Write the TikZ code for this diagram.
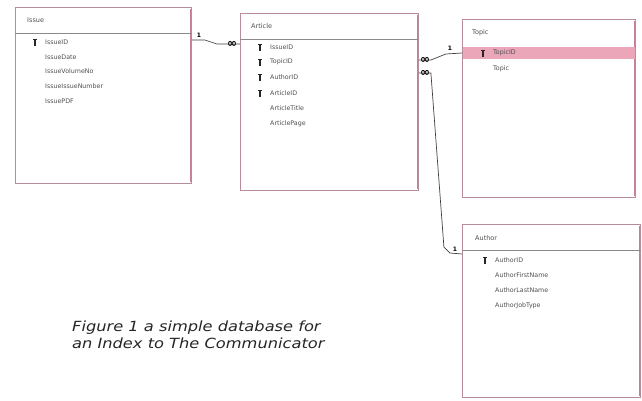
\documentclass[tikz,border=0pt]{standalone}
\usepackage{fontspec}
\setmainfont{DejaVu Sans}
\usetikzlibrary{calc}
\definecolor{boxline}{HTML}{B88C98}
\definecolor{boxshadow}{HTML}{C67E96}
\definecolor{hdrline}{HTML}{8A8A8A}
\definecolor{hilite}{HTML}{EBA6BA}
\definecolor{fieldtxt}{HTML}{505050}
\tikzset{
  tbl/.style={draw=boxline, line width=0.9pt, fill=white, anchor=north west, inner sep=0pt},
  hdr/.style={anchor=west, font=\fontsize{6.5}{7}\selectfont, text=fieldtxt, inner sep=0pt},
  fld/.style={anchor=west, font=\fontsize{6.3}{7}\selectfont, text=fieldtxt, inner sep=0pt},
  rel/.style={draw=black!75, line width=0.7pt},
  one/.style={font=\fontsize{6}{6}\selectfont\bfseries, inner sep=0pt},
  many/.style={font=\fontsize{12}{12}\selectfont\bfseries, inner sep=0pt},
  keyic/.style={fill=black!85, draw=none},
}
\newcommand{\keyat}[1]{\fill[keyic] ($(#1)+(-1.6,-3.5)$) rectangle ($(#1)+(1.6,-1.8)$); \fill[keyic] ($(#1)+(-0.7,-2)$) rectangle ($(#1)+(0.7,3.5)$);}
\begin{document}
\begin{tikzpicture}[x=1pt,y=-1pt]
\useasboundingbox[fill=white] (0,0) rectangle (642,400);
% tables
\node[tbl, minimum width=176pt, minimum height=176pt] (issue) at (15,7) {};
\node[tbl, minimum width=178pt, minimum height=177pt] (article) at (240,13) {};
\node[tbl, minimum width=173pt, minimum height=178pt] (topic) at (462,19) {};
\node[tbl, minimum width=178pt, minimum height=173pt] (author) at (462,224) {};
% shadows (right edges)
\foreach \t in {issue,article,topic,author}{
  \draw[boxshadow, line width=1.2pt] ([xshift=-1.5pt,yshift=-2pt]\t.north east) -- ([xshift=-1.5pt,yshift=2pt]\t.south east);
}
% header separators
\draw[hdrline, line width=0.9pt] ([yshift=-26pt]issue.north west) -- ([yshift=-26pt]issue.north east);
\draw[hdrline, line width=0.9pt] ([yshift=-26pt]article.north west) -- ([yshift=-26pt]article.north east);
\draw[hdrline, line width=0.9pt] ([yshift=-26pt]author.north west) -- ([yshift=-26pt]author.north east);
% Topic highlight
\fill[hilite] ([xshift=1pt,yshift=-28pt]topic.north west) rectangle ([xshift=-1pt,yshift=-40pt]topic.north east);
% Issue
\node[hdr] (issueH) at (27,20) {Issue};
\keyat{35,42}
\node[fld] (i1) at (45,42) {IssueID};
\node[fld] (i2) at (45,57) {IssueDate};
\node[fld] (i3) at (45,71) {IssueVolumeNo};
\node[fld] (i4) at (45,86) {IssueIssueNumber};
\node[fld] (i5) at (45,101) {IssuePDF};
% Article
\node[hdr] (articleH) at (251,26) {Article};
\keyat{260,47}\keyat{260,62}\keyat{260,77}\keyat{260,93}
\node[fld] (a1) at (270,47) {IssueID};
\node[fld] (a2) at (270,62) {TopicID};
\node[fld] (a3) at (270,77) {AuthorID};
\node[fld] (a4) at (270,93) {ArticleID};
\node[fld] (a5) at (270,108) {ArticleTitle};
\node[fld] (a6) at (270,124) {ArticlePage};
% Topic
\node[hdr] (topicH) at (472,33) {Topic};
\keyat{483,53}
\node[fld] (t1) at (493,53) {TopicID};
\node[fld] (t2) at (493,69) {Topic};
% Author
\node[hdr] (authorH) at (475,238) {Author};
\keyat{485,260}
\node[fld] (u1) at (495,260) {AuthorID};
\node[fld] (u2) at (495,275) {AuthorFirstName};
\node[fld] (u3) at (495,290) {AuthorLastName};
\node[fld] (u4) at (495,306) {AuthorJobType};
% relationships
\draw[rel] ([yshift=-33pt]issue.north east) -- ++(13,0) -- ++(12,4) -- ([yshift=-31pt]article.north west);
\node[one] (r1a) at (199,35) {1};
\node[many] (r1b) at (232,44) {∞};
\draw[rel] ([yshift=-47pt]article.north east) -- ++(12,0) -- ++(15,-6) -- ([yshift=-34pt]topic.north west);
\node[many] (r2a) at (425,60) {∞};
\node[one] (r2b) at (450,48) {1};
\draw[rel] ([yshift=-60pt]article.north east) -- ++(12,0) -- ++(13,174) -- ++(6,6) -- ([yshift=-30pt]author.north west);
\node[many] (r3a) at (425,73) {∞};
\node[one] (r3b) at (455,249) {1};
% caption
\node[anchor=north west, align=left, inner sep=0pt, text=black!85] (cap) at (72,321) {\scalebox{1.16}[1]{\fontsize{14}{17.5}\selectfont\itshape\shortstack[l]{Figure 1 a simple database for\\an Index to The Communicator}}};
\end{tikzpicture}
\end{document}
